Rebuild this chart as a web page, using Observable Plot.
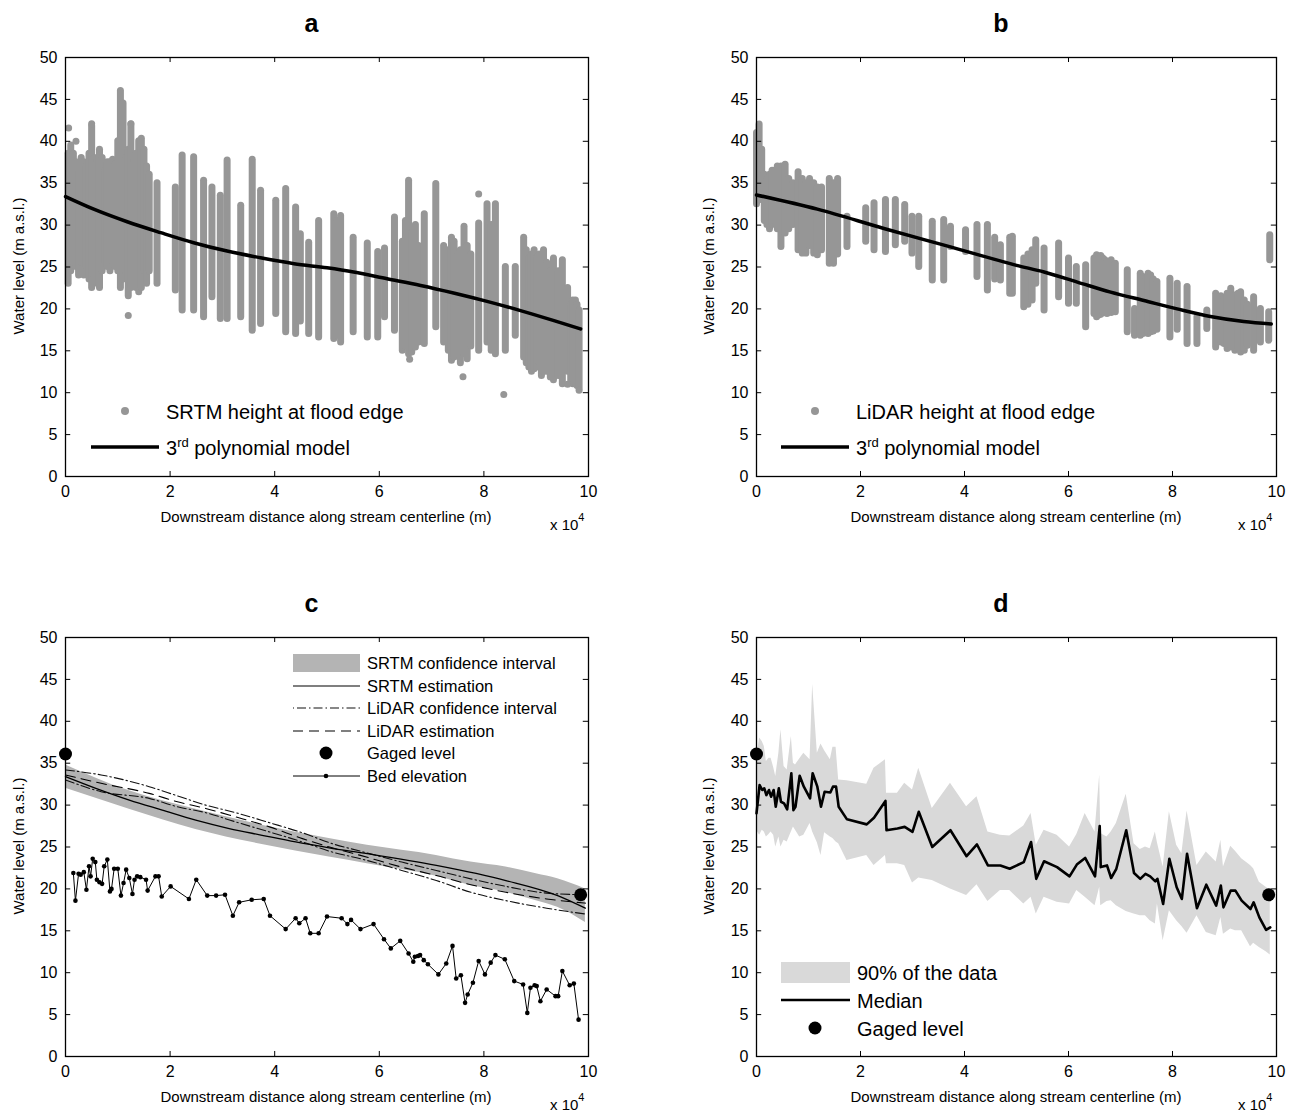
<!DOCTYPE html>
<html>
<head>
<meta charset="utf-8">
<script src="https://cdn.jsdelivr.net/npm/d3@7"></script>
<script src="https://cdn.jsdelivr.net/npm/@observablehq/plot@0.6"></script>
<style>
  html, body { margin: 0; padding: 0; background: #fff; }
  #root { position: relative; width: 1302px; height: 1117px; overflow: hidden; font-family: "Liberation Sans", Arial, sans-serif; }
  #root > svg, #root > figure { position: absolute; margin: 0; }
  .ov text { font-family: "Liberation Sans", Arial, sans-serif; fill: #000; }
</style>
</head>
<body>
<div id="root"></div>
<script>
// ---------- tick labels ----------
const xTicks = [0, 2, 4, 6, 8, 10];
const yTicks = [0, 5, 10, 15, 20, 25, 30, 35, 40, 45, 50];

// ---------- panel a: SRTM heights at flood edge (vertical clusters of points) ----------
const srtmStripX  = [0.05,0.1,0.15,0.2,0.25,0.3,0.35,0.4,0.45,0.5,0.55,0.6,0.65,0.7,0.75,0.8,0.85,0.9,0.95,1.0,1.05,1.1,1.15,1.2,1.25,1.3,1.35,1.4,1.45,1.5,1.55,1.6,
  1.75,2.10,2.23,2.45,2.64,2.80,2.96,3.09,3.35,3.57,3.73,4.02,4.21,4.40,4.49,4.65,4.84,
  5.13,5.20,5.26,5.50,5.77,5.97,6.10,6.29,6.44,6.50,6.56,6.62,6.69,6.75,6.86,7.08,7.23,7.32,7.38,7.43,7.50,7.55,7.62,7.68,7.75,7.90,8.06,8.14,8.22,8.41,8.60,8.76,8.81,8.86,8.91,8.96,9.01,9.06,9.10,9.14,9.20,9.27,9.33,9.42,9.50,9.60,9.66,9.70,9.75,9.78,9.82];
const srtmStripLo = [23.0,24.5,25.5,25.0,24.0,25.5,24.0,25.0,23.5,22.5,24.0,23.0,22.5,24.5,25.5,25.0,24.5,25.5,25.0,24.5,22.5,23.5,24.5,21.5,22.5,24.0,22.5,22.0,22.5,24.5,23.0,24.5,
  23.0,22.2,19.8,19.8,19.0,21.4,18.8,18.8,19.0,17.4,18.2,19.4,17.2,17.0,18.5,17.0,16.6,
  16.4,16.8,16.0,17.2,16.6,16.6,19.0,17.4,15.0,15.5,14.6,14.8,15.4,16.0,15.8,17.8,16.0,15.0,13.8,14.2,14.5,13.5,14.6,14.0,15.5,15.0,16.0,15.0,14.6,15.0,16.8,14.2,13.5,13.0,12.5,12.8,13.0,13.5,12.0,12.5,12.5,11.8,11.5,12.0,11.0,12.5,11.5,11.0,11.0,10.8,10.5];
const srtmStripHi = [38.5,39.5,38.5,37.5,36.5,38.0,37.5,37.0,38.5,41.8,38.0,37.5,39.0,38.0,36.5,37.5,37.5,37.8,37.2,40.0,46.0,44.5,38.0,39.0,42.0,37.5,38.5,40.0,40.3,39.0,37.0,36.0,
  35.0,34.5,38.3,38.1,35.3,34.5,33.5,37.7,32.3,37.8,34.1,32.9,34.3,32.1,28.9,27.9,30.5,
  31.3,30.5,31.1,28.5,27.8,26.8,27.2,30.9,28.0,30.5,35.3,29.0,30.0,27.5,31.3,34.9,27.5,27.0,28.5,28.0,26.5,27.0,29.8,27.5,26.5,30.2,32.5,30.0,32.5,25.0,25.0,28.5,27.0,26.0,26.5,27.0,26.0,26.5,26.0,27.0,25.5,24.5,26.0,24.5,25.8,22.5,20.5,21.0,21.0,20.5,19.8];
const srtmDotX = [0.06, 0.5, 1.25, 1.2, 0.2, 6.58, 7.60, 7.90, 8.38, 9.60, 9.82];
const srtmDotY = [41.6, 42.1, 42.1, 19.2, 40.0, 14.0, 11.9, 33.7, 9.8, 11.0, 10.3];
// 3rd-degree polynomial model (SRTM)
const polyAX = [0, 0.54, 1.18, 1.82, 2.45, 3.09, 3.73, 4.37, 5.0, 5.51, 6.15, 6.79, 7.42, 8.06, 8.7, 9.34, 9.85];
const polyAY = [33.4, 31.9, 30.4, 29.1, 27.9, 26.9, 26.1, 25.4, 24.9, 24.4, 23.6, 22.8, 21.9, 20.9, 19.8, 18.6, 17.6];

// ---------- panel b: LiDAR heights at flood edge ----------
const lidarStripX  = [0.0,0.05,0.1,0.15,0.2,0.25,0.3,0.35,0.4,0.47,0.55,0.62,0.7,0.8,0.88,0.95,1.02,1.1,1.17,1.25,1.4,1.48,1.56,1.74,
  2.1,2.26,2.48,2.67,2.85,2.99,3.12,3.38,3.6,3.73,4.02,4.24,4.44,4.58,4.69,4.87,
  4.92,5.14,5.22,5.3,5.37,5.53,5.81,6.0,6.15,6.33,6.49,6.54,6.58,6.62,6.66,6.70,6.74,6.82,6.9,7.13,7.27,7.38,7.43,7.48,7.53,7.58,7.63,7.7,7.95,8.09,8.28,8.47,8.66,8.83,8.93,8.99,9.05,9.12,9.2,9.26,9.31,9.38,9.44,9.56,9.69,9.85,9.87];
const lidarStripLo = [32.5,33.0,33.0,30.5,30.0,29.5,30.0,30.5,29.5,27.4,29.0,29.5,30.0,27.0,26.6,26.6,27.5,26.6,26.4,27.0,25.4,25.4,26.5,27.4,
  28.0,27.0,26.8,27.6,28.0,26.6,25.0,23.4,23.4,27.4,26.8,23.8,22.2,23.5,23.4,21.8,
  21.8,20.2,20.5,21.0,23.0,19.8,21.4,20.6,20.6,17.8,19.4,19.0,19.2,19.3,19.6,19.5,19.4,19.5,19.6,17.2,16.8,16.8,17.0,17.5,17.0,17.2,17.3,17.5,16.6,17.5,15.8,15.8,17.6,15.4,16.0,15.8,15.2,15.4,15.0,15.2,14.8,15.0,15.6,15.0,16.0,16.2,25.8];
const lidarStripHi = [41.0,42.0,39.0,36.0,35.5,36.0,36.5,36.5,37.0,37.0,37.2,35.5,35.0,36.3,35.5,35.0,35.5,35.0,34.5,34.5,35.5,35.0,35.5,31.0,
  32.0,32.6,33.0,33.0,32.4,31.0,31.0,30.4,30.6,29.8,29.4,30.0,30.0,28.5,27.6,28.5,
  28.6,26.0,26.5,27.0,28.2,27.2,27.8,26.0,25.0,25.2,26.0,26.4,26.2,26.3,26.0,25.8,25.6,25.8,25.4,24.6,20.0,24.2,23.8,23.5,24.2,24.0,23.5,23.2,23.6,23.0,22.6,19.0,19.8,21.8,21.5,21.2,21.8,22.4,21.6,21.8,22.0,21.0,20.5,21.4,20.0,19.6,28.8];
const polyBX = [0, 1.17, 2.45, 3.73, 5.0, 5.53, 6.17, 6.81, 7.45, 8.09, 8.73, 9.37, 9.9];
const polyBY = [33.6, 31.9, 29.6, 27.4, 25.2, 24.4, 23.2, 22.0, 21.0, 20.0, 19.1, 18.5, 18.2];

// ---------- panel c ----------
const srtmCiX  = [0, 1.22, 2.49, 3.76, 5.04, 5.77, 7.09, 7.75, 8.42, 9.0, 9.41, 9.94];
const srtmCiHi = [34.8, 31.7, 29.5, 27.6, 26.0, 25.2, 24.0, 23.2, 22.6, 21.8, 21.2, 20.0];
const srtmCiLo = [32.0, 29.5, 27.1, 25.3, 23.8, 23.0, 21.5, 20.4, 19.6, 18.6, 17.8, 16.0];
const srtmEstX = [0, 0.58, 1.22, 1.85, 2.49, 3.13, 3.76, 4.4, 5.04, 5.77, 7.09, 8.42, 9.41, 9.94];
const srtmEstY = [33.4, 32.0, 30.6, 29.4, 28.2, 27.2, 26.4, 25.6, 24.9, 24.2, 22.8, 21.0, 19.2, 17.7];
const lidarCX  = [0, 0.68, 1.6, 2.14, 2.68, 3.25, 3.9, 4.53, 5.1, 5.64, 6.43, 7.09, 7.75, 8.42, 9.2, 9.94];
const lidarCiHi = [34.2, 33.6, 32.2, 31.1, 30.0, 29.1, 27.9, 26.7, 25.4, 24.5, 23.2, 22.2, 21.2, 20.3, 19.5, 19.3];
const lidarEst  = [33.6, 32.6, 31.4, 30.4, 29.6, 28.6, 27.4, 26.0, 24.9, 24.0, 22.6, 21.6, 20.5, 19.6, 18.8, 18.3];
const lidarCiLo = [33.0, 31.6, 30.8, 29.8, 29.1, 28.0, 26.8, 25.6, 24.4, 23.6, 22.2, 21.0, 19.6, 18.6, 17.7, 17.0];
const gagedX = [0, 9.85];
const gagedY = [36.1, 19.3];
const bedX = [0.15,0.19,0.25,0.29,0.35,0.40,0.45,0.48,0.52,0.57,0.60,0.65,0.70,0.74,0.80,0.85,0.88,0.93,1.0,1.06,1.11,1.16,1.22,1.28,1.32,1.37,1.43,1.54,1.57,1.72,1.78,1.84,2.01,2.36,2.50,2.71,2.88,3.05,3.20,3.32,3.56,3.79,3.91,4.21,4.40,4.47,4.59,4.68,4.84,5.0,5.28,5.39,5.46,5.64,5.89,6.09,6.22,6.40,6.56,6.65,6.68,6.74,6.78,6.85,6.93,7.13,7.28,7.40,7.47,7.56,7.64,7.69,7.79,7.90,8.02,8.13,8.22,8.40,8.58,8.75,8.83,8.89,8.97,9.01,9.08,9.20,9.37,9.42,9.50,9.64,9.72,9.81];
const bedY = [21.9,18.6,21.8,21.7,22.0,19.9,22.7,21.5,23.6,23.2,21.1,20.8,20.6,22.7,23.5,19.7,20.0,22.4,22.4,19.2,20.7,22.3,21.3,19.4,21.1,21.5,21.4,21.1,19.8,21.5,21.5,19.1,20.3,18.8,21.1,19.2,19.2,19.3,16.8,18.4,18.7,18.8,16.8,15.2,16.5,15.9,16.5,14.7,14.7,16.7,16.5,15.8,16.3,15.2,15.8,14.0,12.9,13.8,12.3,11.3,11.9,12.0,12.1,11.5,11.0,9.8,11.1,13.2,9.3,9.7,6.4,7.4,8.8,11.4,9.8,11.2,12.1,11.6,9.0,8.6,5.2,8.2,8.5,8.4,6.6,8.0,7.2,7.2,10.2,8.5,8.7,4.4];

// ---------- panel d ----------
const secX = [0,0.06,0.11,0.15,0.19,0.24,0.28,0.33,0.37,0.43,0.47,0.53,0.59,0.67,0.71,0.75,0.83,0.91,1.03,1.08,1.17,1.24,1.31,1.42,1.47,1.53,1.58,1.74,2.12,2.26,2.48,2.5,2.71,2.85,3.0,3.12,3.38,3.73,4.04,4.24,4.45,4.69,4.87,5.14,5.28,5.38,5.53,5.78,6.02,6.16,6.32,6.51,6.6,6.62,6.74,6.82,6.92,7.11,7.26,7.38,7.48,7.57,7.67,7.71,7.82,7.94,8.08,8.18,8.28,8.47,8.65,8.84,8.93,8.98,9.12,9.21,9.33,9.5,9.56,9.67,9.8,9.88];
const secMedian = [29.0,32.4,31.8,32.0,31.2,31.8,31.0,31.8,29.8,32.0,30.4,30.2,29.5,33.8,29.4,29.8,33.5,32.2,30.8,33.8,32.2,29.8,31.6,31.5,32.2,32.2,29.8,28.3,27.7,28.5,30.5,27.0,27.2,27.4,26.8,29.2,25.0,27.0,23.9,25.3,22.8,22.8,22.4,23.2,25.6,21.2,23.3,22.6,21.5,22.9,23.7,21.5,27.5,22.6,22.8,21.3,22.4,27.0,21.9,21.2,21.8,21.5,20.9,21.2,18.2,23.6,20.2,18.8,24.2,17.7,20.5,18.0,20.4,17.8,19.8,19.8,18.6,17.6,18.4,16.6,15.1,15.4];
const secP95 = [35.4,38.0,37.6,37.0,35.2,35.6,35.6,34.5,33.4,36.2,39.0,34.6,34.2,38.2,35.0,34.8,35.5,36.2,35.4,44.4,36.2,37.3,36.5,35.4,36.9,36.9,33.0,32.9,32.5,34.4,35.4,31.4,31.4,32.6,31.8,34.4,29.6,32.6,29.8,31.0,26.8,26.4,26.3,27.5,29.0,25.2,27.0,26.4,25.0,26.5,29.0,26.8,33.6,26.6,26.2,26.8,27.8,31.3,25.4,24.7,25.0,24.8,26.8,25.5,22.6,29.2,25.2,24.2,29.3,22.8,24.4,23.2,25.8,22.6,25.1,24.5,23.6,22.8,22.4,20.8,20.2,19.8];
const secP5 = [27.0,26.4,27.0,26.8,26.2,26.5,26.8,26.4,25.0,26.2,25.0,25.8,25.6,26.8,27.4,27.0,26.2,26.4,27.8,26.8,25.5,24.0,26.7,26.2,26.0,25.6,25.4,23.4,24.0,22.8,24.0,23.0,23.0,22.8,20.7,21.3,21.0,20.0,19.2,20.5,18.5,19.8,19.8,18.2,19.0,17.0,19.0,18.4,18.2,19.8,19.0,18.0,20.2,18.0,18.5,18.6,18.0,17.3,17.0,16.8,16.8,16.2,15.8,18.2,13.8,17.4,16.2,15.5,14.7,16.8,14.8,14.4,16.6,14.6,15.2,15.0,15.0,13.1,13.5,13.0,12.5,12.1];

// ---------- tables built from the arrays ----------
const zipXY = (xs, ys) => xs.map((x, i) => ({x, y: ys[i]}));
const srtmStrips = srtmStripX.map((x, i) => ({x, lo: srtmStripLo[i], hi: srtmStripHi[i]}));
const srtmDots = zipXY(srtmDotX, srtmDotY);
const polyA = zipXY(polyAX, polyAY);
const lidarStrips = lidarStripX.map((x, i) => ({x, lo: lidarStripLo[i], hi: lidarStripHi[i]}));
const polyB = zipXY(polyBX, polyBY);
const srtmCi = srtmCiX.map((x, i) => ({x, lo: srtmCiLo[i], hi: srtmCiHi[i]}));
const srtmEst = zipXY(srtmEstX, srtmEstY);
const lidarHi = zipXY(lidarCX, lidarCiHi);
const lidarE = zipXY(lidarCX, lidarEst);
const lidarLo = zipXY(lidarCX, lidarCiLo);
const gaged = zipXY(gagedX, gagedY);
const bed = zipXY(bedX, bedY);
const sections = secX.map((x, i) => ({x, med: secMedian[i], hi: secP95[i], lo: secP5[i]}));

const PT = "#969696";
const W = 650, H = 540;

function frameMarks() {
  return [
    Plot.ruleX(xTicks, {x: d => d, y1: 0, y2: 0.6, stroke: "black", strokeWidth: 1}),
    Plot.ruleX(xTicks, {x: d => d, y1: 50, y2: 49.4, stroke: "black", strokeWidth: 1}),
    Plot.ruleY(yTicks, {y: d => d, x1: 0, x2: 0.1, stroke: "black", strokeWidth: 1}),
    Plot.ruleY(yTicks, {y: d => d, x1: 10, x2: 9.9, stroke: "black", strokeWidth: 1}),
    Plot.axisX(xTicks, {anchor: "bottom", label: null, tickSize: 0, tickPadding: 9, fontSize: 16, tickFormat: d => String(d)}),
    Plot.axisY(yTicks, {anchor: "left", label: null, tickSize: 0, tickPadding: 8, fontSize: 16, tickFormat: d => String(d)}),
    Plot.frame({stroke: "black", strokeWidth: 1.3})
  ];
}

function panel(left, top, mL, mR, marks) {
  const p = Plot.plot({
    width: W, height: H,
    marginLeft: mL, marginRight: mR, marginTop: 57, marginBottom: 64,
    x: {domain: [0, 10], label: null},
    y: {domain: [0, 50], label: null},
    style: {fontFamily: "Liberation Sans, Arial, sans-serif", fontSize: "16px", color: "black", background: "transparent", overflow: "visible"},
    marks: [...marks, ...frameMarks()]
  });
  p.style.left = left + "px";
  p.style.top = top + "px";
  document.getElementById("root").appendChild(p);
}

// panel a
panel(0, 0, 65, 62, [
  Plot.ruleX(srtmStrips, {x: "x", y1: "lo", y2: "hi", stroke: PT, strokeWidth: 7, strokeLinecap: "round"}),
  Plot.dot(srtmDots, {x: "x", y: "y", r: 3.5, fill: PT}),
  Plot.line(polyA, {x: "x", y: "y", stroke: "black", strokeWidth: 3.5, curve: "monotone-x"})
]);
// panel b
panel(690, 0, 66, 64, [
  Plot.ruleX(lidarStrips, {x: "x", y1: "lo", y2: "hi", stroke: PT, strokeWidth: 7, strokeLinecap: "round"}),
  Plot.line(polyB, {x: "x", y: "y", stroke: "black", strokeWidth: 3.5, curve: "monotone-x"})
]);
// panel c
panel(0, 580, 65, 62, [
  Plot.areaY(srtmCi, {x: "x", y1: "lo", y2: "hi", fill: "#b4b4b4", curve: "monotone-x"}),
  Plot.line(lidarHi, {x: "x", y: "y", stroke: "#111", strokeWidth: 1.1, strokeDasharray: "9,3,1.5,3", curve: "monotone-x"}),
  Plot.line(lidarLo, {x: "x", y: "y", stroke: "#111", strokeWidth: 1.1, strokeDasharray: "9,3,1.5,3", curve: "monotone-x"}),
  Plot.line(lidarE, {x: "x", y: "y", stroke: "black", strokeWidth: 1.1, strokeDasharray: "10,6", curve: "monotone-x"}),
  Plot.line(srtmEst, {x: "x", y: "y", stroke: "black", strokeWidth: 1.3, curve: "monotone-x"}),
  Plot.line(bed, {x: "x", y: "y", stroke: "black", strokeWidth: 1}),
  Plot.dot(bed, {x: "x", y: "y", r: 2.3, fill: "black"}),
  Plot.dot(gaged, {x: "x", y: "y", r: 6.5, fill: "black"})
]);
// panel d
panel(690, 580, 66, 64, [
  Plot.areaY(sections, {x: "x", y1: "lo", y2: "hi", fill: "#d9d9d9"}),
  Plot.line(sections, {x: "x", y: "med", stroke: "black", strokeWidth: 2.6}),
  Plot.dot(gaged, {x: "x", y: "y", r: 6.5, fill: "black"})
]);

// ---------- titles, axis labels and legends (overlay) ----------
const NS = "http://www.w3.org/2000/svg";
const ov = document.createElementNS(NS, "svg");
ov.setAttribute("class", "ov");
ov.setAttribute("width", 1302); ov.setAttribute("height", 1117);
ov.style.left = "0px"; ov.style.top = "0px"; ov.style.pointerEvents = "none";
document.getElementById("root").appendChild(ov);
function el(tag, attrs, text) {
  const e = document.createElementNS(NS, tag);
  for (const k in attrs) e.setAttribute(k, attrs[k]);
  if (text != null) e.textContent = text;
  ov.appendChild(e);
  return e;
}
function span(parent, text, attrs) {
  const s = document.createElementNS(NS, "tspan");
  for (const k in (attrs || {})) s.setAttribute(k, attrs[k]);
  s.textContent = text;
  parent.appendChild(s);
  return s;
}
const panels = [
  {t: "a", cx: 326, x0: 65, x1: 588, dy: 0, lab: 20},
  {t: "b", cx: 1016, x0: 756, x1: 1276, dy: 0, lab: 710},
  {t: "c", cx: 326, x0: 65, x1: 588, dy: 580, lab: 20},
  {t: "d", cx: 1016, x0: 756, x1: 1276, dy: 580, lab: 710}
];
for (const p of panels) {
  el("text", {x: (p.x0 + p.x1) / 2 - 15, y: 32 + p.dy, "font-size": 25, "font-weight": "bold", "text-anchor": "middle"}, p.t);
  el("text", {x: p.cx, y: 522 + p.dy, "font-size": 15, "text-anchor": "middle"}, "Downstream distance along stream centerline (m)");
  const t = el("text", {x: p.x1 - 38, y: 530 + p.dy, "font-size": 15});
  span(t, "x 10");
  span(t, "4", {dy: -9, "font-size": 11});
  const cy = 266 + p.dy, lx = p.lab + 4;
  el("text", {x: lx, y: cy, "font-size": 15, "text-anchor": "middle", transform: `rotate(-90 ${lx} ${cy})`}, "Water level (m a.s.l.)");
}

// legend a & b
for (const [dx, name] of [[0, "SRTM height at flood edge"], [690, "LiDAR height at flood edge"]]) {
  el("circle", {cx: 125 + dx, cy: 411, r: 4, fill: PT});
  el("text", {x: 166 + dx, y: 419, "font-size": 20}, name);
  el("line", {x1: 91 + dx, x2: 159 + dx, y1: 447, y2: 447, stroke: "black", "stroke-width": 3.5});
  const t = el("text", {x: 166 + dx, y: 455, "font-size": 20});
  span(t, "3");
  span(t, "rd", {dy: -8, "font-size": 13});
  span(t, " polynomial model", {dy: 8});
}

// legend c
const cRows = [663, 686, 708, 731, 753, 776];
el("rect", {x: 293, y: 654, width: 67, height: 18, fill: "#b4b4b4"});
el("line", {x1: 293, x2: 360, y1: cRows[1], y2: cRows[1], stroke: "black", "stroke-width": 1.2});
el("line", {x1: 293, x2: 360, y1: cRows[2], y2: cRows[2], stroke: "#111", "stroke-width": 1.1, "stroke-dasharray": "9,3,1.5,3", "stroke-dashoffset": -4});
el("line", {x1: 293, x2: 360, y1: cRows[3], y2: cRows[3], stroke: "black", "stroke-width": 1.1, "stroke-dasharray": "10,6"});
el("circle", {cx: 326, cy: cRows[4], r: 6.5, fill: "black"});
el("line", {x1: 293, x2: 360, y1: cRows[5], y2: cRows[5], stroke: "black", "stroke-width": 1});
el("circle", {cx: 326, cy: cRows[5], r: 2.3, fill: "black"});
["SRTM confidence interval", "SRTM estimation", "LiDAR confidence interval", "LiDAR estimation", "Gaged level", "Bed elevation"]
  .forEach((s, i) => el("text", {x: 367, y: cRows[i] + 6, "font-size": 16.5}, s));

// legend d
el("rect", {x: 781, y: 962, width: 69, height: 21, fill: "#d9d9d9"});
el("text", {x: 857, y: 980, "font-size": 20}, "90% of the data");
el("line", {x1: 781, x2: 850, y1: 1000, y2: 1000, stroke: "black", "stroke-width": 2.6});
el("text", {x: 857, y: 1008, "font-size": 20}, "Median");
el("circle", {cx: 815, cy: 1028, r: 6.5, fill: "black"});
el("text", {x: 857, y: 1036, "font-size": 20}, "Gaged level");
</script>
</body>
</html>
